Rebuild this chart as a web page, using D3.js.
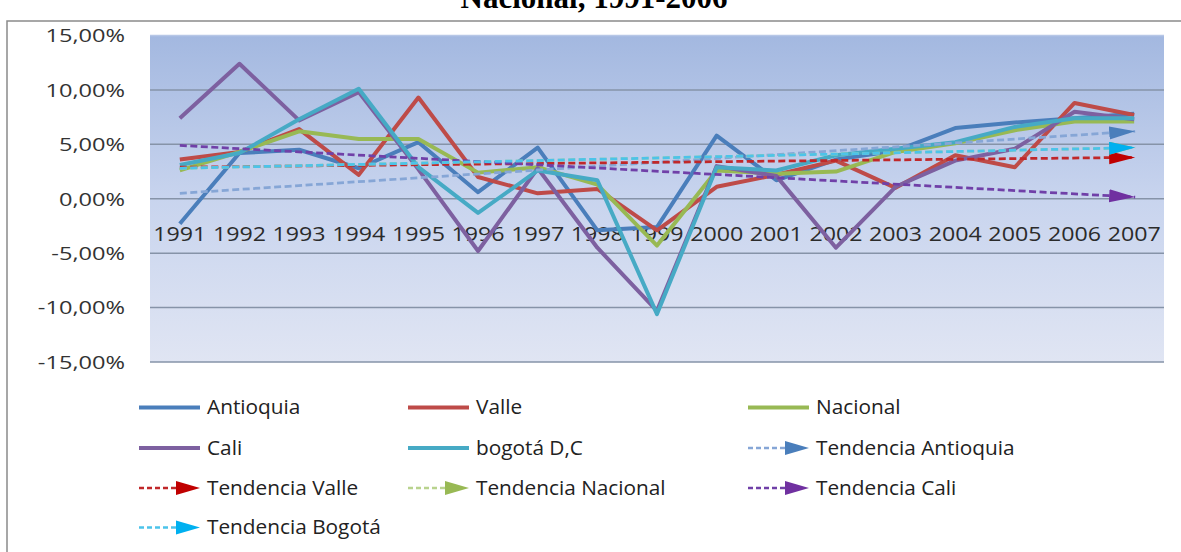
<!DOCTYPE html>
<html>
<head>
<meta charset="utf-8">
<script src="https://cdn.jsdelivr.net/npm/d3@7"></script>
<style>
  body { margin: 0; background: #fff; }
  svg { display: block; }
</style>
</head>
<body>
<div id="chart"></div>
<script>
// values (growth %, 1991-2007)
const years = ["1991","1992","1993","1994","1995","1996","1997","1998","1999","2000","2001","2002","2003","2004","2005","2006","2007"];
const antioquia = [-2.3, 4.2, 4.5, 2.8, 5.2, 0.6, 4.7, -2.9, -2.6, 5.8, 1.7, 3.6, 4.4, 6.5, 7.0, 7.4, 7.8];
const valle     = [3.6, 4.3, 6.4, 2.2, 9.3, 2.0, 0.5, 0.9, -2.9, 1.1, 2.2, 3.5, 1.0, 4.0, 2.9, 8.8, 7.7];
const nacional  = [2.6, 4.3, 6.2, 5.5, 5.5, 2.4, 2.9, 1.3, -4.3, 2.6, 2.3, 2.5, 4.3, 5.1, 6.3, 7.1, 7.1];
const cali      = [7.4, 12.4, 7.2, 9.8, 2.7, -4.8, 2.8, -4.5, -10.3, 3.0, 2.1, -4.5, 1.1, 3.5, 4.6, 8.0, 7.3];
const bogota    = [3.1, 4.2, 7.3, 10.1, 2.9, -1.3, 2.6, 1.7, -10.6, 2.9, 2.6, 4.0, 4.6, 5.2, 6.6, 7.4, 7.4];

// trend lines: value at 1991 and at 2007
const trendAntioquia = [0.5, 6.2];
const trendValle     = [2.9, 3.8];
const trendNacional  = [2.8, 4.7];
const trendCali      = [4.9, 0.15];
const trendBogota    = [2.8, 4.7];

const yTicks = [-15, -10, -5, 0, 5, 10, 15];

const series = [
  { name: "Antioquia",   values: antioquia, color: "#4a7ebb" },
  { name: "Valle",       values: valle,     color: "#be4b48" },
  { name: "Nacional",    values: nacional,  color: "#98b954" },
  { name: "Cali",        values: cali,      color: "#7d60a0" },
  { name: "bogotá D,C",  values: bogota,    color: "#46aac5" }
];
const trends = [
  { name: "Tendencia Antioquia", values: trendAntioquia, dash: "#86a6d6", head: "#4a7ebb" },
  { name: "Tendencia Valle",     values: trendValle,     dash: "#c0282a", head: "#c00000" },
  { name: "Tendencia Nacional",  values: trendNacional,  dash: "#b9d38e", head: "#98b954" },
  { name: "Tendencia Cali",      values: trendCali,      dash: "#7040a8", head: "#7030a0" },
  { name: "Tendencia Bogotá",    values: trendBogota,    dash: "#4cc3ea", head: "#00b0f0" }
];

const width = 1181, height = 552;
const plot = { left: 150, right: 1164, top: 35.5, bottom: 362 };

const svg = d3.select("#chart").append("svg")
  .attr("width", width)
  .attr("height", height)
  .style("font-family", "'Open Sans', sans-serif");

// title, cut off at the top of the picture like in the original
svg.append("text")
  .attr("x", 594).attr("y", 8)
  .attr("text-anchor", "middle")
  .style("font-family", "'Liberation Serif', serif")
  .style("font-weight", "bold")
  .style("font-size", "31px")
  .text("Nacional, 1991-2006");

// outer frame
svg.append("rect")
  .attr("x", 7).attr("y", 21)
  .attr("width", 1190).attr("height", 600)
  .attr("fill", "none")
  .attr("stroke", "#8a8a8a")
  .attr("stroke-width", 1.5);

const defs = svg.append("defs");
const grad = defs.append("linearGradient")
  .attr("id", "bg").attr("x1", 0).attr("y1", 0).attr("x2", 0).attr("y2", 1);
grad.append("stop").attr("offset", "0%").attr("stop-color", "#a3b8e0");
grad.append("stop").attr("offset", "50%").attr("stop-color", "#c8d4ee");
grad.append("stop").attr("offset", "100%").attr("stop-color", "#e0e5f3");

trends.forEach((t, i) => {
  defs.append("marker")
    .attr("id", "arrow" + i)
    .attr("markerUnits", "userSpaceOnUse")
    .attr("markerWidth", 27).attr("markerHeight", 14)
    .attr("refX", 26).attr("refY", 6.5)
    .attr("orient", "auto")
    .append("path")
    .attr("d", "M0,0L26,6.5L0,13Z")
    .attr("fill", t.head);
});

const x = d3.scaleBand().domain(years).range([plot.left, plot.right]);
const cx = d => x(d) + x.bandwidth() / 2;
const y = d3.scaleLinear().domain([-15, 15]).range([plot.bottom, plot.top]);

svg.append("rect")
  .attr("x", plot.left).attr("y", plot.top)
  .attr("width", plot.right - plot.left)
  .attr("height", plot.bottom - plot.top)
  .attr("fill", "url(#bg)");

// gridlines
svg.append("g")
  .selectAll("line")
  .data(yTicks)
  .join("line")
  .attr("x1", plot.left).attr("x2", plot.right)
  .attr("y1", d => y(d)).attr("y2", d => y(d))
  .attr("stroke", d => d === 15 ? "#b7c7e6" : "#8693a8")
  .attr("stroke-width", 1.5);

// y axis labels (spanish format, plain hyphen for minus)
const esLocale = d3.formatLocale({ decimal: ",", thousands: ".", grouping: [3], currency: ["$", ""], minus: "-" });
const fmt = esLocale.format(".2f");
const yAxis = svg.append("g")
  .attr("transform", `translate(${plot.left},0)`)
  .call(d3.axisLeft(y).tickValues(yTicks).tickSize(0).tickFormat(d => fmt(d) + "%"));
yAxis.select(".domain").remove();
yAxis.selectAll("text")
  .attr("x", -25 / 1.35)
  .attr("dy", "0.36em")
  .attr("transform", "scale(1.35,1)")
  .style("font-family", "'Open Sans', sans-serif")
  .style("font-size", "17.5px")
  .attr("fill", "#333");

// category labels, sitting under the zero line
const xAxis = svg.append("g")
  .attr("transform", `translate(0,${y(0)})`)
  .call(d3.axisBottom(x).tickSize(0));
xAxis.select(".domain").remove();
xAxis.selectAll("text")
  .attr("y", 42.5)
  .attr("dy", 0)
  .attr("x", 0)
  .attr("transform", "scale(1.16,1)")
  .style("font-family", "'Open Sans', sans-serif")
  .style("font-size", "20px")
  .attr("fill", "#2b2b2b");

// series lines
const line = d3.line()
  .x((d, i) => cx(years[i]))
  .y(d => y(d));

svg.append("g")
  .selectAll("path")
  .data(series)
  .join("path")
  .attr("d", d => line(d.values))
  .attr("fill", "none")
  .attr("stroke", d => d.color)
  .attr("stroke-width", 4)
  .attr("stroke-linejoin", "round");

// trend lines with arrow heads
svg.append("g")
  .selectAll("line")
  .data(trends)
  .join("line")
  .attr("x1", cx(years[0]))
  .attr("x2", cx(years[years.length - 1]) + 1)
  .attr("y1", d => y(d.values[0]))
  .attr("y2", d => y(d.values[1]))
  .attr("stroke", d => d.dash)
  .attr("stroke-width", 2.75)
  .attr("stroke-dasharray", "7,3.5")
  .attr("marker-end", (d, i) => `url(#arrow${i})`);

// legend
const legendItems = [
  { ...series[0], kind: "s" }, { ...series[1], kind: "s" }, { ...series[2], kind: "s" },
  { ...series[3], kind: "s" }, { ...series[4], kind: "s" }, { ...trends[0], kind: "t" },
  { ...trends[1], kind: "t" }, { ...trends[2], kind: "t" }, { ...trends[3], kind: "t" },
  { ...trends[4], kind: "t" }
];
const colX = [139, 408, 748];
const rowY = [414, 454.5, 494.5, 534];

const legend = svg.append("g")
  .selectAll("g")
  .data(legendItems)
  .join("g")
  .attr("transform", (d, i) => `translate(${colX[i % 3]},${rowY[Math.floor(i / 3)]})`);

legend.filter(d => d.kind === "s")
  .append("line")
  .attr("x1", 0).attr("x2", 61)
  .attr("y1", -6.5).attr("y2", -6.5)
  .attr("stroke", d => d.color)
  .attr("stroke-width", 4);

legend.filter(d => d.kind === "t")
  .append("line")
  .attr("x1", 0).attr("x2", 38)
  .attr("y1", -6.5).attr("y2", -6.5)
  .attr("stroke", d => d.dash)
  .attr("stroke-width", 2.5)
  .attr("stroke-dasharray", "5,3");

legend.filter(d => d.kind === "t")
  .append("path")
  .attr("d", "M37,-13.5L61,-6.5L37,0.5Z")
  .attr("fill", d => d.head);

legend.append("text")
  .attr("transform", "translate(68,0) scale(1.04,1)")
  .style("font-size", "20px")
  .attr("fill", "#222")
  .text(d => d.name);
</script>
</body>
</html>
